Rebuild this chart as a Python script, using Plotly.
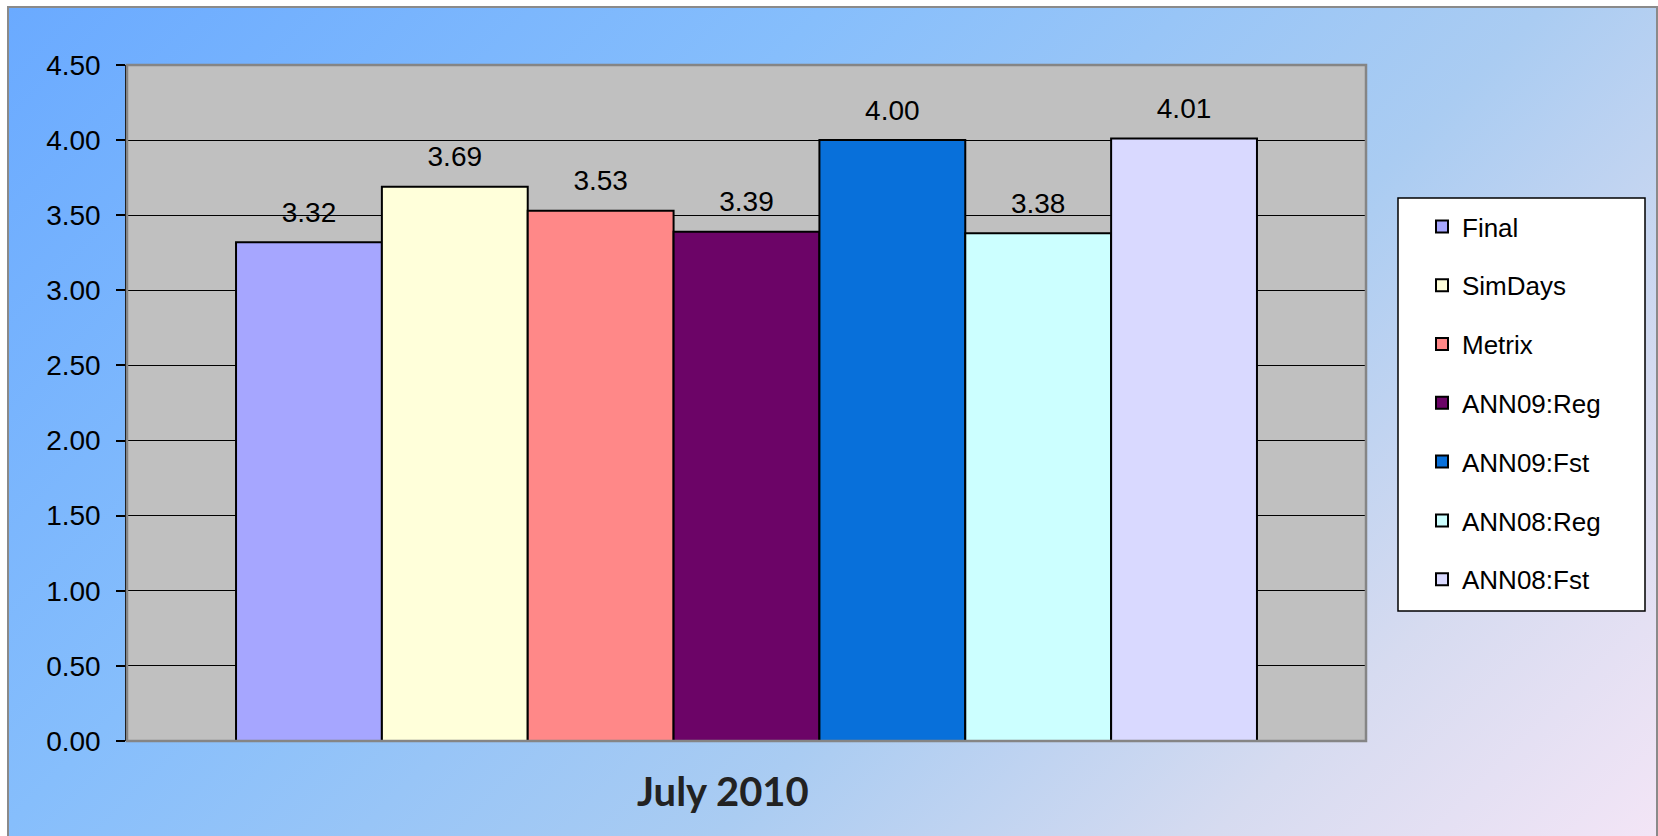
import base64
import plotly.graph_objects as go

# ---- data ----
category = ["July 2010"]
series_names = ["Final", "SimDays", "Metrix", "ANN09:Reg", "ANN09:Fst", "ANN08:Reg", "ANN08:Fst"]
series_values = [3.32, 3.69, 3.53, 3.39, 4.00, 3.38, 4.01]
series_colors = ["#A6A6FF", "#FFFFDA", "#FF8888", "#6C0467", "#0870DA", "#CCFFFF", "#D9D9FF"]
y_ticks = [0, 0.5, 1.0, 1.5, 2.0, 2.5, 3.0, 3.5, 4.0, 4.5]

W, H = 1658, 836
L, R, T, B = 127, 1366, 65, 741  # plot area in pixels
GAP = 0.176

def px_x(p):
    return (p - L) / (R - L)

def px_y(p):
    return (B - p) / (B - T)

fig = go.Figure()
for name, val, col in zip(series_names, series_values, series_colors):
    fig.add_trace(go.Bar(
        x=category, y=[val], name=name, legendgroup=name, offsetgroup=name,
        marker=dict(color=col, line=dict(color="#000000", width=2)),
    ))
for name, val in zip(series_names, series_values):
    fig.add_trace(go.Scatter(
        x=category, y=[val], mode="markers+text", offsetgroup=name, legendgroup=name,
        showlegend=False, hoverinfo="skip",
        marker=dict(size=20, opacity=0),
        text=[val], texttemplate="%{y:.2f}", textposition="top center",
        textfont=dict(family="Liberation Sans, Arial", size=28, color="#000000"),
        cliponaxis=False,
    ))

# gradient background as inline svg
svg = (
    '<svg xmlns="http://www.w3.org/2000/svg" width="1650" height="829" viewBox="0 0 1650 829" preserveAspectRatio="none">'
    '<defs><linearGradient id="g" gradientUnits="userSpaceOnUse" x1="0" y1="0" x2="1240" y2="1240">'
    '<stop offset="0" stop-color="#6AAAFF"/>'
    '<stop offset="0.33" stop-color="#86BEFC"/>'
    '<stop offset="0.62" stop-color="#AACCF2"/>'
    '<stop offset="0.82" stop-color="#D6DBF0"/>'
    '<stop offset="1" stop-color="#F3E5F6"/>'
    '</linearGradient></defs>'
    '<rect x="0" y="0" width="1650" height="829" fill="url(#g)"/></svg>'
)
src = "data:image/svg+xml;base64," + base64.b64encode(svg.encode()).decode()

fig.add_layout_image(dict(
    source=src, xref="paper", yref="paper",
    x=px_x(8), y=px_y(7), sizex=(W - 8) / (R - L), sizey=(H - 7) / (B - T),
    xanchor="left", yanchor="top", sizing="stretch", layer="below",
))

shapes = [
    # plot background
    dict(type="rect", xref="paper", yref="paper", x0=0, x1=1, y0=0, y1=1,
         line=dict(width=0), fillcolor="#C0C0C0", layer="below"),
    # outer border
    dict(type="rect", xref="paper", yref="paper", x0=px_x(8), x1=px_x(1657), y0=px_y(7), y1=px_y(840),
         line=dict(color="#8A8A8A", width=2), fillcolor="rgba(0,0,0,0)", layer="below"),
    # legend box
    dict(type="rect", xref="paper", yref="paper", x0=px_x(1398), x1=px_x(1645), y0=px_y(198), y1=px_y(611),
         line=dict(color="#000000", width=1.5), fillcolor="#FFFFFF", layer="below"),
    # plot border
    dict(type="rect", xref="paper", yref="paper", x0=0, x1=1, y0=0, y1=1,
         line=dict(color="#858585", width=2.5), fillcolor="rgba(0,0,0,0)", layer="above"),
]

fig.add_annotation(
    text="<b>%s</b>" % category[0], xref="paper", yref="paper",
    x=px_x(723), y=px_y(791), showarrow=False,
    font=dict(family="Lato, Open Sans", size=40, color="#222222"),
    xanchor="center", yanchor="middle",
)

fig.update_layout(
    width=W, height=H,
    margin=dict(l=L, r=W - R, t=T, b=H - B),
    paper_bgcolor="#FFFFFF",
    plot_bgcolor="rgba(0,0,0,0)",
    barmode="group", bargap=GAP, bargroupgap=0,
    scattermode="group", scattergap=GAP,
    shapes=shapes,
    showlegend=True,
    legend=dict(
        x=px_x(1422), y=px_y(203), xanchor="left", yanchor="top",
        bgcolor="rgba(0,0,0,0)", borderwidth=0,
        font=dict(family="Liberation Sans, Arial", size=26, color="#000000"),
        tracegroupgap=22, itemwidth=30,
    ),
    font=dict(family="Liberation Sans, Arial", color="#000000"),
)
fig.update_xaxes(showticklabels=False, showgrid=False, ticks="", showline=False, zeroline=False, fixedrange=True)
fig.update_yaxes(
    range=[0, 4.5], tickvals=y_ticks, tickformat=".2f",
    showgrid=True, gridcolor="#000000", gridwidth=1,
    showline=True, linecolor="#000000", linewidth=1.5,
    ticks="outside", ticklen=9, tickcolor="#000000", tickwidth=1.5,
    ticklabelstandoff=10,
    tickfont=dict(family="Liberation Sans, Arial", size=28, color="#000000"),
    zeroline=False,
)

fig.write_html("out.html")
